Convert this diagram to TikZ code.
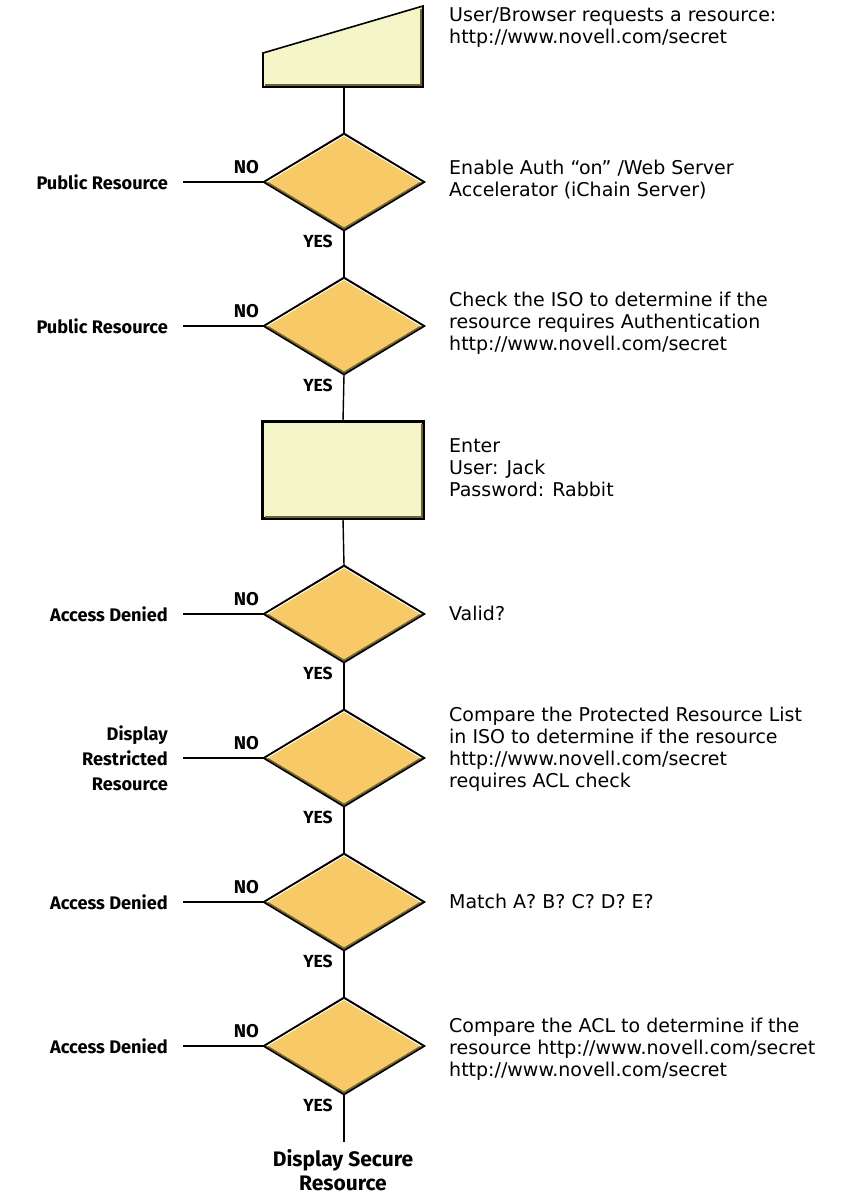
\documentclass[tikz,border=0pt]{standalone}
\usepackage{fontspec}
\setmainfont{DejaVu Sans}
\newfontfamily\labelfont{Fira Sans}
\usetikzlibrary{shapes.geometric}
\definecolor{decfill}{HTML}{F7C967}
\definecolor{boxfill}{HTML}{F4F5C9}
\definecolor{edgeshadow}{HTML}{6E6430}
\tikzset{
  x=1pt, y=-1pt,
  decision/.style={diamond, draw=black, line width=1.4pt, fill=decfill,
    minimum width=160pt, minimum height=96pt, inner sep=0pt},
  inputbox/.style={rectangle, draw=black, line width=1.6pt, fill=boxfill,
    minimum width=160pt, minimum height=96pt, inner sep=0pt},
  flow/.style={line width=1.4pt, draw=black},
  % anchored at the baseline of the last line
  note/.style={anchor=base west, align=left, inner sep=0pt,
    font=\fontsize{19}{22}\selectfont},
  outcome/.style={anchor=east, align=right, inner sep=0pt,
    font=\labelfont\fontsize{18.2}{25}\selectfont\bfseries},
  nolbl/.style={inner sep=0pt, font=\labelfont\fontsize{18.5}{18}\selectfont\bfseries},
  yeslbl/.style={inner sep=0pt, font=\labelfont\fontsize{17.5}{18}\selectfont\bfseries},
}
\newcommand{\decshade}[1]{%
  \draw[edgeshadow, line width=1.8pt, line join=miter]
    ([xshift=3pt]#1.west) -- ([yshift=2.2pt]#1.south) -- ([xshift=-3pt]#1.east);
  \draw[white, line width=0.9pt]
    ([xshift=3.5pt]#1.west) -- ([yshift=-2.3pt]#1.north) -- ([xshift=-3.5pt]#1.east);
  \draw[black, line width=1.4pt] (#1.west) -- (#1.north) -- (#1.east) -- (#1.south) -- cycle;
}
\begin{document}
\begin{tikzpicture}
\useasboundingbox (0,0) rectangle (844,1195);

% request shape (sloped top)
\coordinate (tl) at (263,53);
\coordinate (tr) at (423,6);
\coordinate (br) at (423,87);
\coordinate (bl) at (263,87);
\coordinate (req) at (344,87);
\fill[boxfill] (tl) -- (tr) -- (br) -- (bl) -- cycle;
\draw[edgeshadow, line width=1.6pt] (421,9) -- (421,85) -- (265,85);
\draw[line width=1.6pt, line join=miter] (tl) -- (tr) -- (br) -- (bl) -- cycle;

% decisions and input box
\node[decision] (d1) at (344,182) {};
\node[decision] (d2) at (344,326) {};
\node[inputbox] (login) at (343,470) {};
\node[decision] (d3) at (344,614) {};
\node[decision] (d4) at (344,758) {};
\node[decision] (d5) at (344,902) {};
\node[decision] (d6) at (344,1046) {};
\foreach \d in {d1,d2,d3,d4,d5,d6} {\decshade{\d}}
\draw[edgeshadow, line width=1.6pt] ([shift={(-2pt,-3pt)}]login.north east) -- ([shift={(-2pt,2pt)}]login.south east) -- ([shift={(3pt,2pt)}]login.south west);
\draw[line width=1.6pt] (login.north west) rectangle (login.south east);

% main flow
\draw[flow] (req) -- (d1.north);
\draw[flow] (d1.south) -- (d2.north);
\draw[flow] (d2.south) -- (login.north);
\draw[flow] (login.south) -- (d3.north);
\draw[flow] (d3.south) -- (d4.north);
\draw[flow] (d4.south) -- (d5.north);
\draw[flow] (d5.south) -- (d6.north);
\coordinate (endpt) at (344,1142);
\draw[flow] (d6.south) -- (endpt);

% NO branches
\foreach \d/\lbl in {d1/o1,d2/o2,d3/o3,d4/o4,d5/o5,d6/o6} {
  \coordinate (\lbl) at (183,0 |- \d.west);
  \draw[flow] (\d.west) -- (\lbl);
  \node[nolbl] at ([shift={(-17pt,15pt)}]\d.west) {NO};
  \node[yeslbl] at ([shift={(-26pt,-11pt)}]\d.south) {YES};
}

% outcome labels
\node[outcome] (r1) at ([xshift=-15pt]o1) {Public Resource};
\node[outcome] (r2) at ([xshift=-15pt]o2) {Public Resource};
\node[outcome] (r3) at ([xshift=-15pt]o3) {Access Denied};
\node[outcome] (r4) at ([xshift=-15pt]o4) {Display\\Restricted\\Resource};
\node[outcome] (r5) at ([xshift=-15pt]o5) {Access Denied};
\node[outcome] (r6) at ([xshift=-15pt]o6) {Access Denied};
\node[anchor=base, align=center, inner sep=0pt, font=\labelfont\fontsize{21}{24}\selectfont\bfseries] (fin) at (343,1190) {Display Secure\\Resource};

% descriptions
\node[note] (n0) at (449,43) {User/Browser requests a resource:\\http://www.novell.com/secret};
\node[note] (n1) at (449,196) {Enable Auth “on” /Web Server\\Accelerator (iChain Server)};
\node[note] (n2) at (449,350) {Check the ISO to determine if the\\resource requires Authentication\\http://www.novell.com/secret};
\node[note] (n3) at (449,496) {Enter\\User: Jack\\Password: Rabbit};
\node[note] (n4) at (449,620) {Valid?};
\node[note] (n5) at (449,787) {Compare the Protected Resource List\\in ISO to determine if the resource\\http://www.novell.com/secret\\requires ACL check};
\node[note] (n6) at (449,908) {Match A? B? C? D? E?};
\node[note] (n7) at (449,1076) {Compare the ACL to determine if the\\resource http://www.novell.com/secret\\http://www.novell.com/secret};
\end{tikzpicture}
\end{document}
